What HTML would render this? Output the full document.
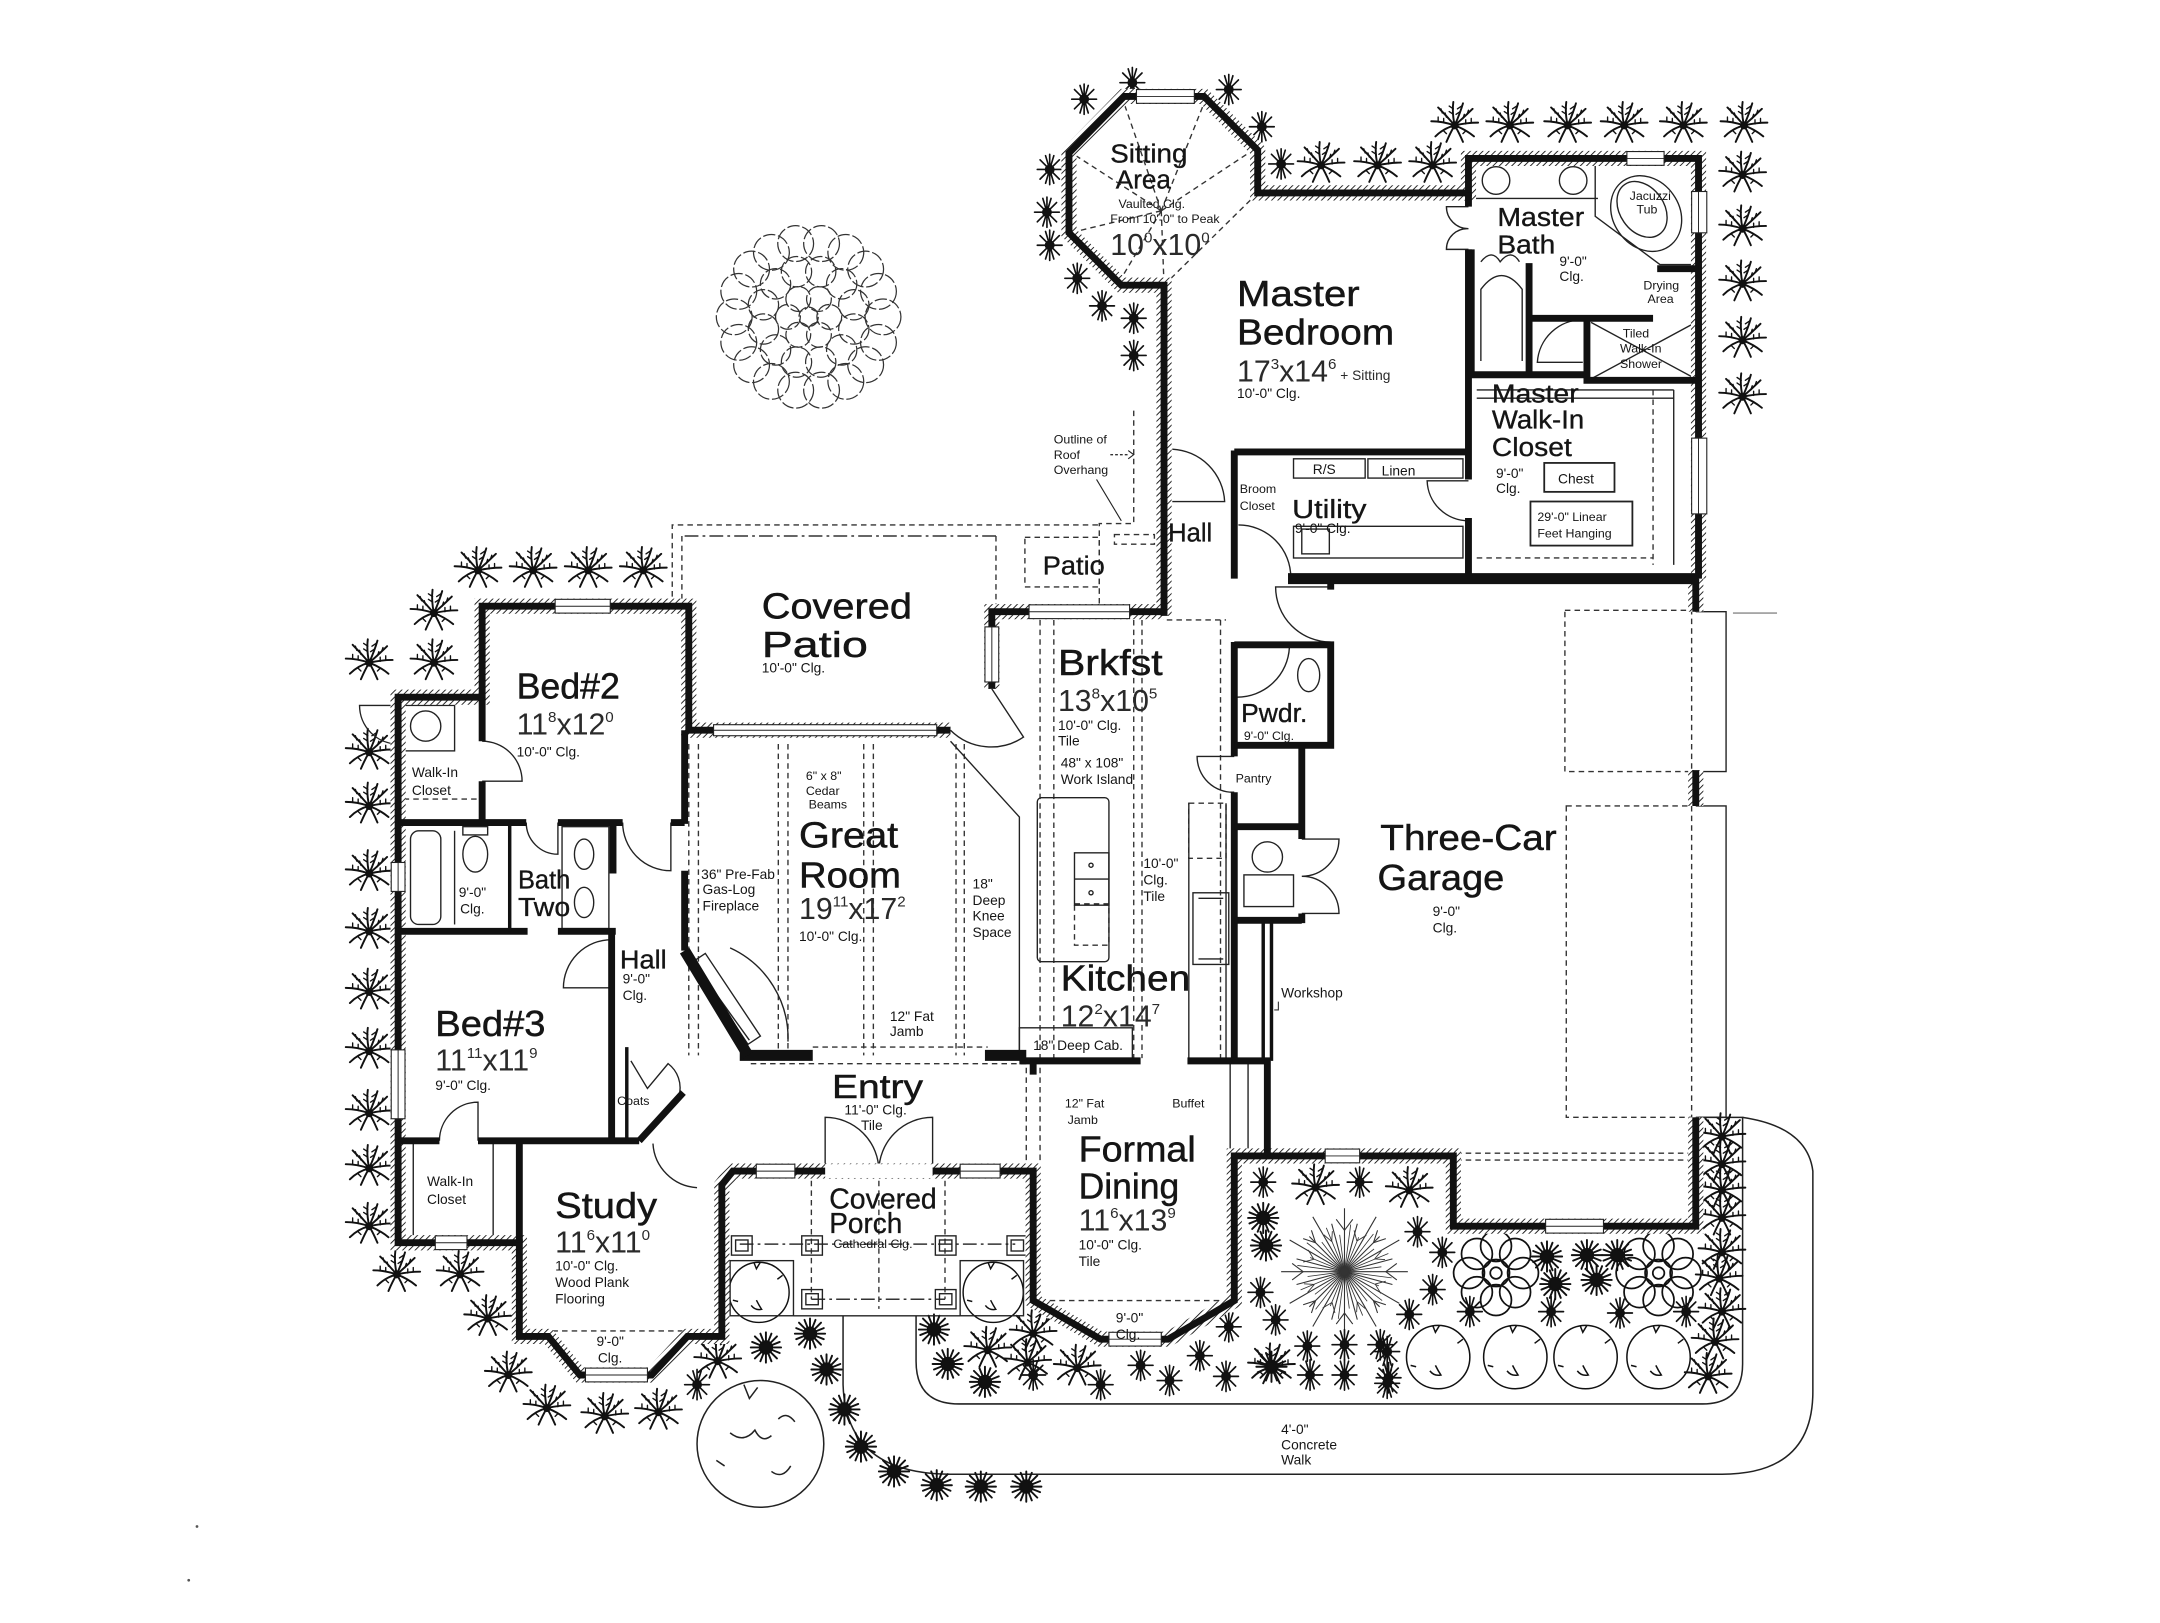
<!DOCTYPE html>
<html><head><meta charset="utf-8"><style>
html,body{margin:0;padding:0;background:#fff}
svg{display:block}
text{font-family:"Liberation Sans",Arial,sans-serif;fill:#151515}
.L{font-size:26px;stroke:#151515;stroke-width:.35}
.M{font-size:19px;stroke:#151515;stroke-width:.25}
.D{font-size:22px;fill:#2a2a2a}
.sp{font-size:11px}
.S{font-size:10px}
.T{font-size:9px}
</style></head><body>
<svg width="2160" height="1623" viewBox="0 0 1568 1178" preserveAspectRatio="none">
<defs>
<pattern id="h" width="3.2" height="3.2" patternUnits="userSpaceOnUse" patternTransform="rotate(45)"><rect width="3.2" height="3.2" fill="#fff"/><line x1="0" y1="0" x2="0" y2="3.2" stroke="#111" stroke-width="1.3"/></pattern>
<g id="pl" fill="none" stroke="#111" stroke-linecap="round">
<path stroke-width="1.4" d="M0 0Q-2-9-1-17M0 0Q4-9 6-16M0 0Q-6-7-12-13M0 0Q7-6 13-12M0 0Q-9-3-17-3M0 0Q9-2 17-2M0 0Q-8 2-14 8M0 0Q8 3 14 8M0 0Q-3 5-6 12M0 0Q3 5 6 12"/>
<path stroke-width="1" d="M-1-8l-3-2M-1-12l-3-2M1-8l3-2M2-12l3-2M-6-6l-1-3M-9-9l-1-3M6-5l1-3M9-8l1-3M-8-2l0-3M-12-3l0-3M8-1l0-3M12-2l0-3M-8 4l2 2M8 4l-2 2"/>
<circle r="2.4" fill="#111"/>
</g>
<g id="ds" stroke="#111" stroke-width="1.4" stroke-linecap="round">
<path d="M-11 0H11M0-11V11M-8-8L8 8M-8 8L8-8M-10-4L10 4M-10 4L10-4M-4-10L4 10M4-10L-4 10"/>
<circle r="4.5" fill="#111"/>
</g>
<g id="st" stroke="#111" stroke-width="1.2" stroke-linecap="round" fill="none">
<path d="M-9 0H9M0-11V11M-7-7L7 7M-7 7L7-7M-3-10L3 10M3-10L-3 10"/>
<circle r="3" fill="#111"/>
</g>
<g id="spk" stroke="#333" stroke-width="0.8" fill="none">
<path d="M0 0L46 0M0 0L34.8 9.3M0 0L39.8 23M0 0L25.5 25.5M0 0L23 39.8M0 0L9.3 34.8M0 0L0 46M0 0L-9.3 34.8M0 0L-23 39.8M0 0L-25.5 25.5M0 0L-39.8 23M0 0L-34.8 9.3M0 0L-46 0M0 0L-34.8 -9.3M0 0L-39.8 -23M0 0L-25.5 -25.5M0 0L-23 -39.8M0 0L-9.3 -34.8M0 0L0 -46M0 0L9.3 -34.8M0 0L23 -39.8M0 0L25.5 -25.5M0 0L39.8 -23M0 0L34.8 -9.3"/>
</g>
<g id="tw" stroke="#333" stroke-width="0.8" fill="none">
<path d="M30 0l8 -6M30 0l8 6M0 30l-6 8M0 30l6 8M-30 0l-8 -6M-30 0l-8 6M0 -30l-6 -8M0 -30l6 -8M21 21l3 9M21 21l9 3M-21 21l-3 9M-21 21l-9 3M-21 -21l-3 -9M-21 -21l-9 -3M21 -21l3 -9M21 -21l9 -3"/>
</g>
<g id="tr" fill="none" stroke="#111" stroke-width="1.1">
<circle r="23"/><path d="M-4-23l2 5 3-5M18-13l-4 3M-6 10q3 4 8 3q-2-3-4-7M-20 6l4 1"/>
</g>
<g id="bu" fill="none" stroke="#111" stroke-width="0.9">
<circle cx="14" cy="0" r="8"/><circle cx="9.9" cy="9.9" r="8"/><circle cx="0" cy="14" r="8"/><circle cx="-9.9" cy="9.9" r="8"/><circle cx="-14" cy="0" r="8"/><circle cx="-9.9" cy="-9.9" r="8"/><circle cx="0" cy="-14" r="8"/><circle cx="9.9" cy="-9.9" r="8"/><circle r="7"/><circle r="3"/>
</g>
</defs>
<rect width="1568" height="1178" fill="#fff"/>

<!-- Landscape: walkway -->
<g fill="none" stroke="#222" stroke-width="1.1">
<path d="M665 955 L665 988 Q665 1019 696 1019 L1236 1019 Q1265 1019 1265 990 L1265 811 L1233 811"/>
<path d="M612 955 L612 1005 Q614 1070 690 1070 L1250 1070 Q1316 1070 1316 1010 L1316 850 Q1312 818 1265 811"/>
</g>

<!-- cloud bush top-left -->
<g transform="translate(587 230)" fill="none" stroke="#333" stroke-width="0.9" stroke-dasharray="9 2">
<circle cx="54" cy="0" r="13"/><circle cx="50.7" cy="18.5" r="13"/><circle cx="41.4" cy="34.7" r="13"/><circle cx="27" cy="46.8" r="13"/><circle cx="9.4" cy="53.2" r="13"/><circle cx="-9.4" cy="53.2" r="13"/><circle cx="-27" cy="46.8" r="13"/><circle cx="-41.4" cy="34.7" r="13"/><circle cx="-50.7" cy="18.5" r="13"/><circle cx="-54" cy="0" r="13"/><circle cx="-50.7" cy="-18.5" r="13"/><circle cx="-41.4" cy="-34.7" r="13"/><circle cx="-27" cy="-46.8" r="13"/><circle cx="-9.4" cy="-53.2" r="13"/><circle cx="9.4" cy="-53.2" r="13"/><circle cx="27" cy="-46.8" r="13"/><circle cx="41.4" cy="-34.7" r="13"/><circle cx="50.7" cy="-18.5" r="13"/>
<circle cx="32.8" cy="8.8" r="11"/><circle cx="24" cy="24" r="11"/><circle cx="8.8" cy="32.8" r="11"/><circle cx="-8.8" cy="32.8" r="11"/><circle cx="-24" cy="24" r="11"/><circle cx="-32.8" cy="8.8" r="11"/><circle cx="-32.8" cy="-8.8" r="11"/><circle cx="-24" cy="-24" r="11"/><circle cx="-8.8" cy="-32.8" r="11"/><circle cx="8.8" cy="-32.8" r="11"/><circle cx="24" cy="-24" r="11"/><circle cx="32.8" cy="-8.8" r="11"/>
<circle cx="15" cy="0" r="9"/><circle cx="7.5" cy="13" r="9"/><circle cx="-7.5" cy="13" r="9"/><circle cx="-15" cy="0" r="9"/><circle cx="-7.5" cy="-13" r="9"/><circle cx="7.5" cy="-13" r="9"/><circle r="7"/>
</g>

<!-- big tree bottom -->
<g fill="none" stroke="#222" stroke-width="1.1">
<circle cx="552" cy="1048" r="46"/>
<path d="M540 1005 l4 10 l6 -8 M530 1040 q10 8 18 -2 q5 10 12 4 M565 1030 q6 -6 12 2 M560 1068 q8 6 14 -4 M520 1060 l6 4"/>
</g>
<g transform="translate(551 938) scale(.95)"><use href="#tr"/></g>
<g transform="translate(721 938) scale(.95)"><use href="#tr"/></g>
<use href="#tr" x="1044" y="985"/><use href="#tr" x="1100" y="985"/><use href="#tr" x="1151" y="985"/><use href="#tr" x="1204" y="985"/>
<g transform="translate(1086 924) scale(1.4)"><use href="#bu"/></g>
<g transform="translate(1204 924) scale(1.4)"><use href="#bu"/></g>
<g transform="translate(976 923)"><use href="#spk"/><use href="#spk" transform="rotate(7.5) scale(.75)"/><use href="#tw"/><use href="#tw" transform="rotate(22) scale(.8)"/></g>

<!-- palms -->
<g>
<use href="#pl" x="347" y="414"/><use href="#pl" x="387" y="414"/><use href="#pl" x="427" y="414"/><use href="#pl" x="467" y="414"/>
<use href="#pl" x="315" y="445"/><use href="#pl" x="268" y="481"/><use href="#pl" x="315" y="481"/>
<use href="#pl" x="268" y="546"/><use href="#pl" x="268" y="585"/><use href="#pl" x="268" y="634"/><use href="#pl" x="268" y="676"/><use href="#pl" x="268" y="720"/><use href="#pl" x="268" y="763"/><use href="#pl" x="268" y="808"/><use href="#pl" x="268" y="848"/><use href="#pl" x="268" y="890"/>
<use href="#pl" x="288" y="925"/><use href="#pl" x="334" y="925"/><use href="#pl" x="354" y="957"/><use href="#pl" x="369" y="998"/><use href="#pl" x="397" y="1022"/><use href="#pl" x="439" y="1028"/><use href="#pl" x="478" y="1025"/><use href="#st" x="506" y="1005"/><use href="#pl" x="521" y="988"/>
<use href="#ds" x="556" y="978"/><use href="#ds" x="588" y="968"/><use href="#ds" x="600" y="994"/><use href="#ds" x="613" y="1023"/><use href="#ds" x="625" y="1050"/><use href="#ds" x="649" y="1068"/><use href="#ds" x="680" y="1078"/><use href="#ds" x="712" y="1079"/><use href="#ds" x="745" y="1079"/>
<use href="#ds" x="678" y="965"/><use href="#ds" x="688" y="990"/><use href="#ds" x="715" y="1003"/><use href="#pl" x="717" y="980"/><use href="#pl" x="750" y="968"/><use href="#st" x="750" y="998"/><use href="#pl" x="782" y="993"/><use href="#st" x="799" y="1005"/>
<use href="#pl" x="746" y="989"/><use href="#st" x="828" y="991"/><use href="#st" x="849" y="1002"/><use href="#st" x="871" y="984"/><use href="#st" x="890" y="999"/><use href="#st" x="892" y="963"/>
<use href="#ds" x="923" y="992"/><use href="#pl" x="923" y="992"/><use href="#st" x="949" y="977"/><use href="#st" x="976" y="976"/><use href="#st" x="1002" y="976"/><use href="#st" x="951" y="998"/><use href="#st" x="976" y="998"/><use href="#st" x="1008" y="1000"/><use href="#st" x="926" y="958"/><use href="#st" x="915" y="938"/><use href="#ds" x="919" y="904"/><use href="#ds" x="917" y="884"/><use href="#st" x="917" y="858"/><use href="#pl" x="955" y="862"/><use href="#st" x="987" y="858"/><use href="#pl" x="1023" y="864"/><use href="#st" x="1029" y="894"/><use href="#st" x="1047" y="909"/><use href="#st" x="1040" y="936"/><use href="#st" x="1023" y="954"/><use href="#st" x="1067" y="952"/><use href="#st" x="1126" y="952"/><use href="#st" x="1176" y="953"/><use href="#st" x="1224" y="952"/><use href="#pl" x="1250" y="952"/><use href="#pl" x="1248" y="928"/><use href="#pl" x="1245" y="974"/><use href="#pl" x="1240" y="999"/><use href="#st" x="1007" y="981"/><use href="#st" x="1007" y="1004"/>
<use href="#pl" x="1250" y="825"/><use href="#pl" x="1250" y="845"/><use href="#pl" x="1250" y="864"/><use href="#pl" x="1250" y="884"/><use href="#pl" x="1250" y="909"/>
<use href="#ds" x="1123" y="912"/><use href="#ds" x="1152" y="911"/><use href="#ds" x="1174" y="911"/><use href="#ds" x="1129" y="932"/><use href="#ds" x="1159" y="929"/>
<use href="#pl" x="1056" y="91"/><use href="#pl" x="1096" y="91"/><use href="#pl" x="1138" y="91"/><use href="#pl" x="1179" y="91"/><use href="#pl" x="1222" y="91"/><use href="#pl" x="1266" y="91"/>
<use href="#st" x="930" y="119"/><use href="#pl" x="959" y="120"/><use href="#pl" x="1000" y="120"/><use href="#pl" x="1040" y="120"/>
<use href="#pl" x="1265" y="127"/><use href="#pl" x="1265" y="166"/><use href="#pl" x="1265" y="206"/><use href="#pl" x="1265" y="247"/><use href="#pl" x="1265" y="288"/>
<use href="#st" x="787" y="72"/><use href="#st" x="822" y="60"/><use href="#st" x="892" y="65"/><use href="#st" x="916" y="92"/><use href="#st" x="762" y="123"/><use href="#st" x="760" y="154"/><use href="#st" x="762" y="178"/><use href="#st" x="782" y="202"/><use href="#st" x="800" y="222"/><use href="#st" x="823" y="231"/><use href="#st" x="823" y="258"/>
</g>

<!-- dashed / thin lines -->
<g fill="none" stroke="#333" stroke-width="1" stroke-dasharray="4 3">
<path d="M488 440 L488 381 L798 381"/>
<path d="M823 298 L823 380 L798 380 L798 440"/>
<rect x="744" y="390" width="54" height="36"/>
<rect x="809" y="388" width="29" height="7"/>
<path d="M723 389 L723 440 M495 389 L495 440"/>
<path d="M500 540 V766 M507 540 V766 M565 540 V766 M572 540 V766 M627 540 V766 M634 540 V766 M694 540 V766 M700 540 V766"/>
<path d="M590 760 L717 760 M545 772 L745 772"/>
<path d="M755 450 V768 M765 450 V768 M823 450 V768 M829 450 V768 M886 450 V768"/>
<path d="M847 450 L890 450"/>
<path d="M745 775 V845 M755 775 V845"/>
<path d="M755 944 L892 944 M380 966 L520 966"/>
<path d="M589 850 V943 M686 850 V943 M638 850 V950"/>
<path d="M843 153 L816 75 M843 153 L874 75 M843 153 L908 110 M843 153 L781 113 M843 153 L781 168 M843 153 L814 202 M843 153 L845 207 M845 207 L913 140"/>
<rect x="1136" y="443" width="92" height="117"/>
<rect x="1137" y="585" width="91" height="226"/>
<path d="M1057 837 H1228 M1057 842 H1228"/>
<path d="M293 580 H347"/>
<path d="M1200 283 V410 M1072 405 H1200"/>
<rect x="863" y="583" width="27" height="40"/>
<rect x="780" y="656" width="25" height="30"/>
<path d="M806 330 L819 330" stroke-dasharray="2 1.5"/>
</g>
<g fill="none" stroke="#333" stroke-width="1.1" stroke-dasharray="10 3 2 3">
<path d="M497 389 L723 389 M537 903 L737 903 M589 943 L686 943"/>
</g>
<g fill="none" stroke="#222" stroke-width="1">
<path d="M690 538 L740 593 L740 764"/>
<path d="M863 583 V770 M890 583 V770"/>
<rect x="753" y="579" width="52" height="119" rx="3"/>
<rect x="780" y="619" width="25" height="38"/><path d="M780 638 H805"/><circle cx="792" cy="628" r="1.5"/><circle cx="792" cy="648" r="1.5"/>
<rect x="866" y="648" width="26" height="52"/><path d="M870 652 H888 M870 696 H888"/>
<rect x="740" y="746" width="82" height="22"/>
<path d="M893 772 V834 M906 772 V834"/>
<path d="M300 830 V900 M358 830 V900"/>
<path d="M1072 283 H1215 M1072 289 H1215 M1215 283 V410"/>
<rect x="939" y="333" width="52" height="14"/><rect x="993" y="333" width="69" height="14"/>
<rect x="939" y="382" width="123" height="23"/><rect x="945" y="384" width="20" height="18"/>
<rect x="1121" y="336" width="51" height="21" stroke-width="1.3"/>
<rect x="1111" y="364" width="74" height="32" stroke-width="1.3"/>
<path d="M1070 144 H1160"/>
<circle cx="1086" cy="131" r="10"/><circle cx="1142" cy="131" r="10"/>
<path d="M1158 118 L1158 157 L1205 192 L1228 192 M1158 118 L1228 118"/>
<ellipse cx="1195" cy="155" rx="24" ry="29" transform="rotate(-35 1195 155)"/>
<ellipse cx="1192" cy="152" rx="16" ry="22" transform="rotate(-35 1192 152)"/>
<path d="M1155 234 L1231 275 M1155 275 L1231 234"/>
<path d="M1075 262 V210 Q1090 190 1105 210 V262"/>
<path d="M1075 190 q8 -10 14 0 q8 -10 14 0"/>
<rect x="293" y="512" width="37" height="33"/><circle cx="309" cy="527" r="11"/>
<rect x="298" y="603" width="22" height="68" rx="6"/><path d="M330 603 V671"/>
<ellipse cx="345" cy="620" rx="9" ry="13"/><rect x="336" y="600" width="18" height="6"/>
<rect x="408" y="600" width="34" height="74"/><ellipse cx="424" cy="620" rx="7" ry="11"/><ellipse cx="424" cy="655" rx="7" ry="11"/>
<ellipse cx="950" cy="490" rx="8" ry="12"/>
<circle cx="920" cy="622" r="11"/><rect x="903" y="635" width="36" height="23"/>
<rect x="530" y="915" width="46" height="40"/><rect x="697" y="915" width="46" height="40"/><path d="M576 955 H697"/>
<rect x="531" y="897" width="15" height="14"/><rect x="534" y="900" width="9" height="8"/>
<rect x="582" y="897" width="15" height="14"/><rect x="585" y="900" width="9" height="8"/>
<rect x="679" y="897" width="15" height="14"/><rect x="682" y="900" width="9" height="8"/>
<rect x="731" y="897" width="15" height="14"/><rect x="734" y="900" width="9" height="8"/>
<rect x="582" y="936" width="15" height="14"/><rect x="585" y="939" width="9" height="8"/>
<rect x="679" y="936" width="15" height="14"/><rect x="682" y="939" width="9" height="8"/>
<path d="M1231 444 H1253 V560 H1231 M1231 585 H1253 V811 H1231"/>
<path d="M1258 445 H1290" stroke="#888"/>
<!-- door swings -->
<path d="M350 567 L379 567 A29 29 0 0 0 350 538"/>
<path d="M405 597 L405 620 A23 23 0 0 1 382 597"/>
<path d="M487 597 L487 632 A35 35 0 0 1 452 597"/>
<path d="M444 717 L409 717 A35 35 0 0 1 444 682"/>
<path d="M347 828 L347 800 A28 28 0 0 0 319 828"/>
<path d="M506 862 A34 34 0 0 1 474 830"/>
<path d="M599 850 L599 811 A39 39 0 0 1 638 850 M677 850 L677 811 A39 39 0 0 0 638 850"/>
<path d="M720 500 L743 535 A42 42 0 0 1 690 530"/>
<path d="M530 688 A72 72 0 0 1 572 756"/>
<path d="M896 549 L869 549 A26 26 0 0 0 896 575"/>
<path d="M898 506 A38 38 0 0 0 936 470"/>
<path d="M966 426 L926 426 A40 40 0 0 0 966 466"/>
<path d="M945 609 L972 609 A27 27 0 0 1 945 636 M945 663 L972 663 A27 27 0 0 0 945 636"/>
<path d="M899 381 A38 38 0 0 1 937 419"/>
<path d="M1066 349 L1036 349 A30 30 0 0 0 1066 378"/>
<path d="M1066 150 L1050 150 A16 16 0 0 0 1066 166 M1066 181 L1050 181 A15 15 0 0 1 1066 166"/>
<path d="M1149 263 L1116 263 A33 33 0 0 1 1149 232"/>
<path d="M851 326 A40 40 0 0 1 889 364 L851 364"/>
<path d="M289 512 L261 512 A28 28 0 0 0 289 540"/>
<path d="M458 770 L470 790 L485 772 A22 22 0 0 1 493 795"/>
<path d="M503 698 L512 692 L552 752 L543 758 Z M508 705 L544 755"/>
<path d="M796 348 L814 378" stroke-width=".8"/>
<path d="M819 327 L823 330 L819 333" stroke-width=".8"/>
</g>

<!-- exterior walls -->
<g fill="none" stroke-linejoin="miter">
<g stroke="url(#h)" stroke-width="11">
<path d="M845 447 L845 207 L814 207 L776 169 L776 111 L816 70 L874 70 L913 109 L913 140 L1066 140 L1066 115 L1233 115 L1233 420"/>
<path d="M1231 420 L1231 444 M1231 559 L1231 585 M1231 811 L1231 890 L1055 890 L1055 839 L896 839 L896 944 L848 972 L799 972 L750 944 L750 850 L532 850 L524 860 L524 970 L499 970 L473 998 L421 998 L398 970 L377 970 L377 902 L289 902 L289 506 L350 506 L350 440 L500 440 L500 530 L690 530"/>
<path d="M720 500 L720 444 L845 444"/>
</g>
<g stroke="#111" stroke-width="5">
<path d="M845 447 L845 207 L814 207 L776 169 L776 111 L816 70 L874 70 L913 109 L913 140 L1066 140 L1066 115 L1233 115 L1233 420"/>
<path d="M1231 420 L1231 444 M1231 559 L1231 585 M1231 811 L1231 890 L1055 890 L1055 839 L896 839 L896 944 L848 972 L799 972 L750 944 L750 850 L532 850 L524 860 L524 970 L499 970 L473 998 L421 998 L398 970 L377 970 L377 902 L289 902 L289 506 L350 506 L350 440 L500 440 L500 530 L690 530"/>
<path d="M720 500 L720 444 L845 444"/>
</g>
<!-- interior walls -->
<g stroke="#111" stroke-width="5">
<path d="M896 327 L896 420 M896 328 L1066 328 M1066 140 L1066 150 M1066 181 L1066 348 M1066 376 L1066 420"/>
<path d="M896 466 L896 549 M896 575 L896 772"/>
<path d="M896 468 L966 468 L966 541 L896 541 M966 420 L966 428"/>
<path d="M945 541 L945 609 M945 663 L945 670 M896 600 L945 600 M896 668 L945 668"/>
<path d="M920 770 L920 839"/>
<path d="M740 770 L828 770 M862 770 L922 770 M750 770 L750 780"/>
<path d="M1068 181 L1068 272 M1110 191 L1110 272 M1066 272 L1152 272 M1110 231 L1200 231 M1152 231 L1152 276 L1233 276 M1203 195 L1233 195"/>
<path d="M350 506 L350 538 M350 567 L350 597 M289 597 L382 597 M405 597 L452 597 M487 597 L497 597"/>
<path d="M445 597 L445 634 M289 676 L383 676 M405 676 L447 676 M444 676 L444 828"/>
<path d="M497 530 L497 598 M497 632 L497 690"/>
<path d="M289 828 L319 828 M347 828 L464 828 M377 828 L377 902"/>
<path d="M464 828 L496 793"/>
</g>
<g stroke="#111" stroke-width="8">
<path d="M935 420 L1233 420"/>
<path d="M715 766 L745 766 M537 766 L590 766"/>
<path d="M497 690 L543 766"/>
</g>
<g stroke="#111" stroke-width="2.5">
<path d="M370 597 L370 676"/>
<path d="M917 668 L917 770 M923 668 L923 770"/>
<path d="M455 760 L455 828"/>
</g>
</g>

<!-- windows -->
<g fill="#fff" stroke="#222" stroke-width="0.8">
<rect x="825" y="65" width="42" height="10"/>
<rect x="1181" y="110" width="27" height="10"/>
<rect x="1228" y="139" width="11" height="30"/>
<rect x="1228" y="318" width="11" height="55"/>
<rect x="403" y="435" width="40" height="10"/>
<rect x="518" y="526" width="162" height="8"/>
<rect x="747" y="439" width="73" height="10"/>
<rect x="715" y="455" width="10" height="40"/>
<rect x="284" y="626" width="10" height="21"/>
<rect x="284" y="762" width="10" height="50"/>
<rect x="316" y="897" width="23" height="10"/>
<rect x="425" y="993" width="45" height="10"/>
<rect x="549" y="845" width="28" height="10"/>
<rect x="697" y="845" width="29" height="10"/>
<rect x="599" y="845" width="78" height="10" stroke="none"/>
<rect x="805" y="967" width="38" height="10"/>
<rect x="962" y="834" width="25" height="10"/>
<rect x="1122" y="885" width="42" height="10"/>
</g>
<g stroke="#222" stroke-width="0.7" fill="none">
<path d="M825 70 H867 M1181 115 H1208 M1233 139 V169 M1233 318 V373 M403 440 H443 M518 530 H680 M747 444 H820 M720 455 V495 M289 626 V647 M289 762 V812 M316 902 H339 M425 998 H470 M549 850 H577 M697 850 H726 M805 972 H843 M962 839 H987 M1122 890 H1164"/>
</g>

<!-- labels -->
<text class="M" x="806" y="118" textLength="56" lengthAdjust="spacingAndGlyphs">Sitting</text>
<text class="M" x="810" y="137" textLength="40" lengthAdjust="spacingAndGlyphs">Area</text>
<text class="T" x="812" y="151">Vaulted Clg.</text>
<text class="T" x="806" y="162">From 10'-0" to Peak</text>
<text class="D" x="806" y="185">10<tspan class="sp" dy="-9">0</tspan><tspan dy="9">x10</tspan><tspan class="sp" dy="-9">0</tspan></text>

<text class="L" x="898" y="222" textLength="89" lengthAdjust="spacingAndGlyphs">Master</text>
<text class="L" x="898" y="250" textLength="114" lengthAdjust="spacingAndGlyphs">Bedroom</text>
<text class="D" x="898" y="277">17<tspan class="sp" dy="-9">3</tspan><tspan dy="9">x14</tspan><tspan class="sp" dy="-9">6</tspan><tspan class="S" dy="8"> + Sitting</tspan></text>
<text class="S" x="898" y="289">10'-0" Clg.</text>

<text class="M" x="1087" y="164" textLength="63" lengthAdjust="spacingAndGlyphs">Master</text>
<text class="M" x="1087" y="184" textLength="42" lengthAdjust="spacingAndGlyphs">Bath</text>
<text class="S" x="1132" y="193">9'-0"</text><text class="S" x="1132" y="204">Clg.</text>
<text class="T" x="1183" y="145">Jacuzzi</text><text class="T" x="1188" y="155">Tub</text>
<text class="T" x="1193" y="210">Drying</text><text class="T" x="1196" y="220">Area</text>
<text class="T" x="1178" y="245">Tiled</text><text class="T" x="1176" y="256">Walk-In</text><text class="T" x="1176" y="267">Shower</text>

<text class="M" x="1083" y="292" textLength="63" lengthAdjust="spacingAndGlyphs">Master</text>
<text class="M" x="1083" y="311" textLength="67" lengthAdjust="spacingAndGlyphs">Walk-In</text>
<text class="M" x="1083" y="331" textLength="58" lengthAdjust="spacingAndGlyphs">Closet</text>
<text class="S" x="1086" y="347">9'-0"</text><text class="S" x="1086" y="358">Clg.</text>
<text class="S" x="1131" y="351">Chest</text>
<text class="T" x="1116" y="378">29'-0" Linear</text>
<text class="T" x="1116" y="390">Feet Hanging</text>
<text class="S" x="953" y="344">R/S</text>
<text class="S" x="1003" y="345">Linen</text>
<text class="T" x="900" y="358">Broom</text><text class="T" x="900" y="370">Closet</text>
<text class="M" x="938" y="376" textLength="54" lengthAdjust="spacingAndGlyphs">Utility</text>
<text class="S" x="940" y="387">9'-0" Clg.</text>
<text class="T" x="765" y="322">Outline of</text>
<text class="T" x="765" y="333">Roof</text>
<text class="T" x="765" y="344">Overhang</text>
<text class="M" x="848" y="393" textLength="32" lengthAdjust="spacingAndGlyphs">Hall</text>
<text class="M" x="757" y="417" textLength="45" lengthAdjust="spacingAndGlyphs">Patio</text>

<text class="L" x="553" y="449" textLength="109" lengthAdjust="spacingAndGlyphs">Covered</text>
<text class="L" x="553" y="477" textLength="77" lengthAdjust="spacingAndGlyphs">Patio</text>
<text class="S" x="553" y="488">10'-0" Clg.</text>

<text class="L" x="375" y="507" textLength="75" lengthAdjust="spacingAndGlyphs">Bed#2</text>
<text class="D" x="375" y="533">11<tspan class="sp" dy="-9">8</tspan><tspan dy="9">x12</tspan><tspan class="sp" dy="-9">0</tspan></text>
<text class="S" x="375" y="549">10'-0" Clg.</text>
<text class="S" x="299" y="564">Walk-In</text><text class="S" x="299" y="577">Closet</text>

<text class="L" x="768" y="490" textLength="76" lengthAdjust="spacingAndGlyphs">Brkfst</text>
<text class="D" x="768" y="516">13<tspan class="sp" dy="-9">8</tspan><tspan dy="9">x10</tspan><tspan class="sp" dy="-9">5</tspan></text>
<text class="S" x="768" y="530">10'-0" Clg.</text><text class="S" x="768" y="541">Tile</text>
<text class="S" x="770" y="557">48" x 108"</text><text class="S" x="770" y="569">Work Island</text>

<text class="M" x="901" y="524" textLength="48" lengthAdjust="spacingAndGlyphs">Pwdr.</text>
<text class="T" x="903" y="537">9'-0" Clg.</text>
<text class="T" x="897" y="568">Pantry</text>

<text class="T" x="585" y="566">6" x 8"</text><text class="T" x="585" y="577">Cedar</text><text class="T" x="587" y="587">Beams</text>
<text class="L" x="580" y="615" textLength="72" lengthAdjust="spacingAndGlyphs">Great</text>
<text class="L" x="580" y="644" textLength="74" lengthAdjust="spacingAndGlyphs">Room</text>
<text class="D" x="580" y="667">19<tspan class="sp" dy="-9">11</tspan><tspan dy="9">x17</tspan><tspan class="sp" dy="-9">2</tspan></text>
<text class="S" x="580" y="683">10'-0" Clg.</text>

<text class="L" x="1002" y="617" textLength="128" lengthAdjust="spacingAndGlyphs">Three-Car</text>
<text class="L" x="1000" y="646" textLength="92" lengthAdjust="spacingAndGlyphs">Garage</text>
<text class="S" x="1040" y="665">9'-0"</text><text class="S" x="1040" y="677">Clg.</text>

<text class="M" x="376" y="645" textLength="38" lengthAdjust="spacingAndGlyphs">Bath</text>
<text class="M" x="376" y="665" textLength="38" lengthAdjust="spacingAndGlyphs">Two</text>
<text class="S" x="333" y="651">9'-0"</text><text class="S" x="334" y="663">Clg.</text>
<text class="S" x="509" y="638">36" Pre-Fab</text><text class="S" x="510" y="649">Gas-Log</text><text class="S" x="510" y="661">Fireplace</text>
<text class="S" x="706" y="645">18"</text><text class="S" x="706" y="657">Deep</text><text class="S" x="706" y="668">Knee</text><text class="S" x="706" y="680">Space</text>
<text class="S" x="830" y="630">10'-0"</text><text class="S" x="830" y="642">Clg.</text><text class="S" x="830" y="654">Tile</text>
<text class="M" x="450" y="703" textLength="34" lengthAdjust="spacingAndGlyphs">Hall</text>
<text class="S" x="452" y="714">9'-0"</text><text class="S" x="452" y="726">Clg.</text>
<text class="S" x="930" y="724">Workshop</text>
<path d="M928 727 V733 L925 733" fill="none" stroke="#333" stroke-width=".8"/>

<text class="L" x="770" y="719" textLength="94" lengthAdjust="spacingAndGlyphs">Kitchen</text>
<text class="D" x="770" y="745">12<tspan class="sp" dy="-9">2</tspan><tspan dy="9">x14</tspan><tspan class="sp" dy="-9">7</tspan></text>
<text class="S" x="646" y="741">12" Fat</text><text class="S" x="646" y="752">Jamb</text>
<text class="S" x="750" y="762">18" Deep Cab.</text>

<text class="L" x="316" y="752" textLength="80" lengthAdjust="spacingAndGlyphs">Bed#3</text>
<text class="D" x="316" y="777">11<tspan class="sp" dy="-9">11</tspan><tspan dy="9">x11</tspan><tspan class="sp" dy="-9">9</tspan></text>
<text class="S" x="316" y="791">9'-0" Clg.</text>

<text class="L" x="604" y="797" textLength="66" lengthAdjust="spacingAndGlyphs" style="font-size:24px">Entry</text>
<text class="S" x="613" y="809">11'-0" Clg.</text><text class="S" x="625" y="820">Tile</text>
<text class="T" x="448" y="802">Coats</text>
<text class="T" x="773" y="804">12" Fat</text><text class="T" x="775" y="816">Jamb</text>
<text class="T" x="851" y="804">Buffet</text>

<text class="L" x="783" y="843" textLength="85" lengthAdjust="spacingAndGlyphs">Formal</text>
<text class="L" x="783" y="870" textLength="73" lengthAdjust="spacingAndGlyphs">Dining</text>
<text class="D" x="783" y="893">11<tspan class="sp" dy="-9">6</tspan><tspan dy="9">x13</tspan><tspan class="sp" dy="-9">9</tspan></text>
<text class="S" x="783" y="907">10'-0" Clg.</text><text class="S" x="783" y="919">Tile</text>

<text class="S" x="310" y="861">Walk-In</text><text class="S" x="310" y="874">Closet</text>
<text class="L" x="403" y="884" textLength="74" lengthAdjust="spacingAndGlyphs">Study</text>
<text class="D" x="403" y="909">11<tspan class="sp" dy="-9">6</tspan><tspan dy="9">x11</tspan><tspan class="sp" dy="-9">0</tspan></text>
<text class="S" x="403" y="922">10'-0" Clg.</text><text class="S" x="403" y="934">Wood Plank</text><text class="S" x="403" y="946">Flooring</text>

<text class="M" x="602" y="877" textLength="78" lengthAdjust="spacingAndGlyphs" style="font-size:21px">Covered</text>
<text class="M" x="602" y="895" textLength="53" lengthAdjust="spacingAndGlyphs" style="font-size:21px">Porch</text>
<text class="T" x="605" y="906">Cathedral Clg.</text>

<text class="S" x="433" y="977">9'-0"</text><text class="S" x="434" y="989">Clg.</text>
<text class="S" x="810" y="960">9'-0"</text><text class="S" x="810" y="972">Clg.</text>
<text class="S" x="930" y="1041">4'-0"</text><text class="S" x="930" y="1052">Concrete</text><text class="S" x="930" y="1063">Walk</text>

<circle cx="143" cy="1108" r="1" fill="#555"/>
<circle cx="137" cy="1147" r="1" fill="#555"/>
</svg>
</body></html>
